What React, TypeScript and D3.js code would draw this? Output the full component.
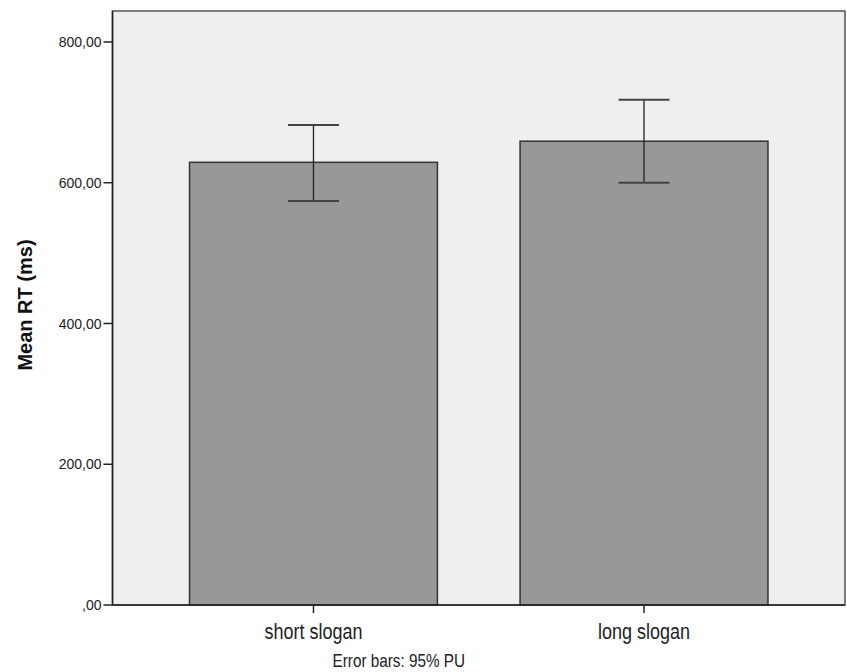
import React, { useEffect, useRef } from "react";
import * as d3 from "d3";

// data
const categories = ["short slogan", "long slogan"];
const means = [629, 659];
const ciLow = [574, 600];
const ciHigh = [682, 718];
const yTicks = [0, 200, 400, 600, 800];

const W = 847;
const H = 672;
const plot = { left: 112.5, right: 845, top: 11, bottom: 605 };

const fmt = (v: number) => (v === 0 ? ",00" : v.toFixed(2).replace(".", ","));

const App = () => {
  const ref = useRef<SVGSVGElement>(null);

  useEffect(() => {
    const svg = d3.select(ref.current);
    svg.selectAll("*").remove();

    const y = d3.scaleLinear().domain([0, 844]).range([plot.bottom, plot.top]);
    const x = d3
      .scaleBand()
      .domain(categories)
      .range([plot.left, plot.right])
      .paddingInner(0.25)
      .paddingOuter(0.233);

    // background of plot
    svg
      .append("rect")
      .attr("x", plot.left)
      .attr("y", plot.top)
      .attr("width", plot.right - plot.left)
      .attr("height", plot.bottom - plot.top)
      .attr("fill", "#efefef")
      .attr("stroke", "#555")
      .attr("stroke-width", 1.5);

    const data = categories.map((c, i) => ({ c, m: means[i], lo: ciLow[i], hi: ciHigh[i] }));

    // bars
    svg
      .selectAll(".bar")
      .data(data)
      .enter()
      .append("rect")
      .classed("bar", true)
      .attr("x", (d) => x(d.c)!)
      .attr("y", (d) => y(d.m))
      .attr("width", x.bandwidth())
      .attr("height", (d) => y(0) - y(d.m))
      .attr("fill", "#989898")
      .attr("stroke", "#333")
      .attr("stroke-width", 1.5);

    // error bars
    const eb = svg.selectAll(".eb").data(data).enter().append("g").classed("eb", true);
    const cx = (d: any) => x(d.c)! + x.bandwidth() / 2;
    eb.append("line")
      .attr("x1", cx)
      .attr("x2", cx)
      .attr("y1", (d) => y(d.lo))
      .attr("y2", (d) => y(d.hi))
      .attr("stroke", "#222")
      .attr("stroke-width", 1.3);
    [
      (d: any) => d.lo,
      (d: any) => d.hi,
    ].forEach((f) => {
      eb.append("line")
        .attr("x1", (d) => cx(d) - 25.5)
        .attr("x2", (d) => cx(d) + 25.5)
        .attr("y1", (d) => y(f(d)))
        .attr("y2", (d) => y(f(d)))
        .attr("stroke", "#444")
        .attr("stroke-width", 2);
    });

    // y axis
    const yAxis = svg.append("g").attr("transform", `translate(${plot.left},0)`);
    yAxis
      .append("line")
      .attr("y1", plot.top)
      .attr("y2", plot.bottom)
      .attr("stroke", "#222")
      .attr("stroke-width", 1.5);
    const yt = yAxis.selectAll(".yt").data(yTicks).enter().append("g").attr("transform", (d) => `translate(0,${y(d)})`);
    yt.append("line").attr("x1", -9).attr("x2", 0).attr("stroke", "#222").attr("stroke-width", 1.5);
    yt.append("text")
      .attr("x", -11)
      .attr("dy", "0.36em")
      .attr("text-anchor", "end")
      .attr("font-family", "Liberation Sans, Arial, sans-serif")
      .attr("font-size", 14)
      .attr("fill", "#222")
      .text((d) => fmt(d));

    // x axis
    svg
      .append("line")
      .attr("x1", plot.left)
      .attr("x2", plot.right)
      .attr("y1", plot.bottom)
      .attr("y2", plot.bottom)
      .attr("stroke", "#222")
      .attr("stroke-width", 1.5);
    const xt = svg
      .selectAll(".xt")
      .data(categories)
      .enter()
      .append("g")
      .attr("transform", (d) => `translate(${x(d)! + x.bandwidth() / 2},${plot.bottom})`);
    xt.append("line").attr("y1", 0).attr("y2", 8).attr("stroke", "#222").attr("stroke-width", 1.5);
    xt.append("text")
      .attr("transform", "translate(0,34) scale(1,1.22)")
      .attr("text-anchor", "middle")
      .attr("font-family", "Liberation Sans, Arial, sans-serif")
      .attr("font-size", 18)
      .attr("fill", "#222")
      .text((d) => d);

    // footnote
    svg
      .append("text")
      .attr("transform", `translate(${(plot.left + plot.right) / 2 - 80},667) scale(1,1.2)`)
      .attr("text-anchor", "middle")
      .attr("font-family", "Liberation Sans, Arial, sans-serif")
      .attr("font-size", 15.3)
      .attr("fill", "#222")
      .text("Error bars: 95% PU");

    // y title
    svg
      .append("text")
      .attr("transform", `translate(32,305) rotate(-90)`)
      .attr("text-anchor", "middle")
      .attr("font-family", "Liberation Sans, Arial, sans-serif")
      .attr("font-weight", "bold")
      .attr("font-size", 20)
      .attr("fill", "#111")
      .text("Mean RT (ms)");
  }, []);

  return (
    <svg
      ref={ref}
      width={W}
      height={H}
      style={{ position: "absolute", left: 0, top: 0, background: "#fff" }}
    ></svg>
  );
};

export default App;
